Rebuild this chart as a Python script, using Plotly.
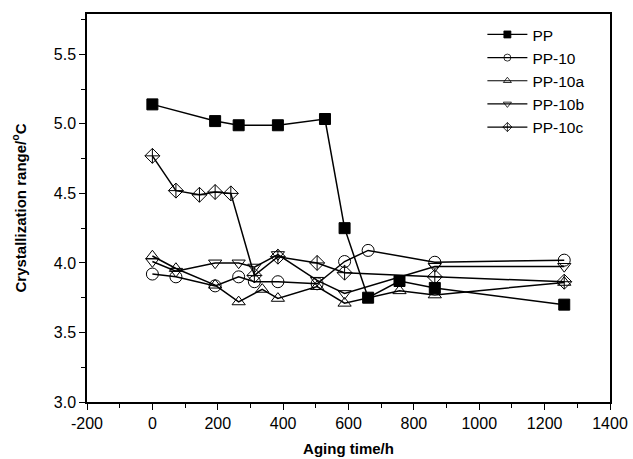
import plotly.graph_objects as go

# Data
pp_x = [0, 192, 264, 384, 528, 588, 660, 756, 864, 1260]
pp_y = [5.14, 5.02, 4.99, 4.99, 5.035, 4.25, 3.75, 3.87, 3.82, 3.70]

pp10_x = [0, 72, 192, 264, 312, 384, 504, 588, 660, 864, 1260]
pp10_y = [3.92, 3.90, 3.835, 3.90, 3.865, 3.865, 3.85, 4.01, 4.09, 4.005, 4.02]

pp10a_x = [0, 72, 192, 264, 336, 384, 504, 588, 756, 864, 1260]
pp10a_y = [4.05, 3.96, 3.84, 3.72, 3.81, 3.745, 3.83, 3.71, 3.80, 3.77, 3.86]

pp10b_x = [0, 72, 192, 264, 312, 384, 504, 588, 864, 1260]
pp10b_y = [4.01, 3.94, 4.00, 4.00, 3.97, 4.06, 3.875, 3.78, 3.975, 3.975]

pp10c_x = [0, 72, 144, 192, 240, 312, 384, 504, 588, 864, 1260]
pp10c_y = [4.77, 4.52, 4.49, 4.51, 4.50, 3.91, 4.045, 4.00, 3.93, 3.90, 3.865]

x_ticks = [-200, 0, 200, 400, 600, 800, 1000, 1200, 1400]
x_ticktext = ["-200", "0", "200", "400", "600", "800", "1000", "1200", "1400"]
y_ticks = [3.0, 3.5, 4.0, 4.5, 5.0, 5.5]
y_ticktext = ["3.0", "3.5", "4.0", "4.5", "5.0", "5.5"]

names = ["PP", "PP-10", "PP-10a", "PP-10b", "PP-10c"]
series = [(pp_x, pp_y), (pp10_x, pp10_y), (pp10a_x, pp10a_y), (pp10b_x, pp10b_y), (pp10c_x, pp10c_y)]
symbols = ["square", "circle-open", "triangle-up-open", "triangle-down-open", "diamond-cross-open"]
sizes = [11, 12, 11.5, 11.5, 11.5]
leg_sizes = [7, 7, 7, 7, 7]

FONT = "Arial, Liberation Sans, sans-serif"

fig = go.Figure()
for (xs, ys), nm, sym, sz in zip(series, names, symbols, sizes):
    fig.add_trace(go.Scatter(
        x=xs, y=ys, mode="lines+markers", name=nm, showlegend=False,
        line=dict(color="black", width=1.5),
        marker=dict(symbol=sym, size=sz, color="black",
                    line=dict(color="black", width=1)),
    ))
for nm, sym, sz in zip(names, symbols, leg_sizes):
    fig.add_trace(go.Scatter(
        x=[None], y=[None], mode="lines+markers", name=nm,
        line=dict(color="black", width=1.2),
        marker=dict(symbol=sym, size=sz, color="black",
                    line=dict(color="black", width=0.8)),
    ))

axis_common = dict(
    showgrid=False, zeroline=False, showline=True, linecolor="black",
    linewidth=1.5, mirror=True, ticks="outside", ticklen=6, tickwidth=1.2,
    tickcolor="black", tickfont=dict(family=FONT, size=16, color="black"),
    automargin=False,
)

fig.update_xaxes(
    range=[-200, 1400], tickmode="array", tickvals=x_ticks, ticktext=x_ticktext,
    minor=dict(ticks="outside", ticklen=4, tickcolor="black", dtick=100, tick0=-200),
    title=dict(text="<b>Aging time/h</b>", font=dict(family=FONT, size=15, color="black"),
               standoff=13),
    **axis_common,
)
fig.update_yaxes(
    range=[3.0, 5.79], tickmode="array", tickvals=y_ticks, ticktext=y_ticktext,
    minor=dict(ticks="outside", ticklen=4, tickcolor="black", dtick=0.25, tick0=3.0),
    title=dict(text="<b>Crystallization range/<sup>o</sup>C</b>",
               font=dict(family=FONT, size=15, color="black"), standoff=24),
    **axis_common,
)

fig.update_layout(
    width=633, height=459,
    margin=dict(l=87, r=23, t=14, b=57),
    plot_bgcolor="white", paper_bgcolor="white",
    font=dict(family=FONT, color="black"),
    legend=dict(x=0.756, y=0.99, xanchor="left", yanchor="top",
                bgcolor="rgba(0,0,0,0)", borderwidth=0,
                font=dict(family=FONT, size=15.5, color="black"),
                tracegroupgap=0, itemwidth=40),
)

fig.write_html("out.html")
